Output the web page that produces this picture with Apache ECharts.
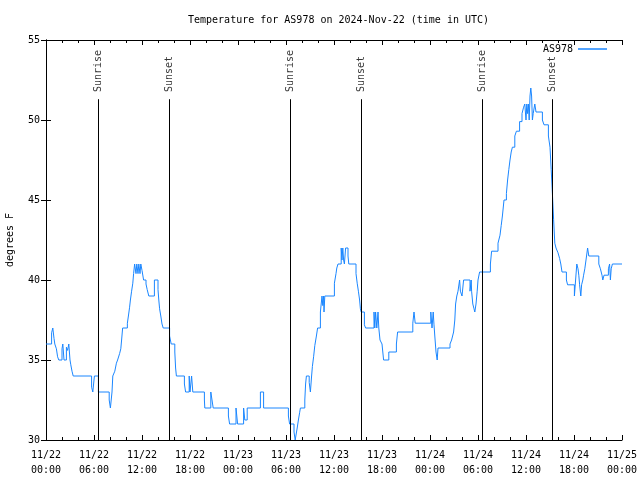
<!DOCTYPE html>
<html>
<head>
<meta charset="utf-8">
<script src="https://cdn.jsdelivr.net/npm/echarts@6/dist/echarts.min.js"></script>
<style>
html,body{margin:0;padding:0;background:#fff;}
#chart{width:640px;height:480px;}
</style>
</head>
<body>
<div id="chart"></div>
<script>
// Hours since 2024-11-22 00:00 UTC at which the temperature changes, and the new value (deg F)
const hours = [
  0, 0.7, 0.85, 1.0, 1.1, 1.3, 1.45, 1.6, 2.0, 2.1, 2.25, 2.55, 2.7, 2.85, 3.0, 3.1, 3.25, 3.4,
  5.7, 5.85, 6.05, 6.55, 7.9, 8.05, 8.25, 8.35, 8.6, 8.8, 8.95, 9.2, 9.35, 9.45, 9.58,
  10.17, 10.3, 10.45, 10.55, 10.7, 10.85, 10.95, 11.08, 11.25, 11.35, 11.5, 11.6, 11.75, 11.85,
  12.0, 12.2, 12.5, 12.65, 12.85, 13.55, 14.0, 14.1, 14.2, 14.35, 14.5, 14.65, 15.45, 15.65,
  16.1, 16.2, 16.3, 17.3, 17.45, 17.9, 18.0, 18.2, 18.35, 19.8, 19.85, 20.6, 20.75, 20.9,
  22.8, 22.95, 23.75, 23.95, 24.7, 24.85, 25.15, 26.8, 27.2, 30.3, 30.45, 31.0, 31.15,
  31.4, 31.55, 31.7, 31.8, 32.35, 32.45, 32.55, 32.9, 33.05, 33.2, 33.3, 33.45, 33.6, 33.8, 33.95,
  34.3, 34.5, 34.6, 34.7, 34.75, 34.85, 36.05, 36.25, 36.35, 36.5, 36.9, 37.0, 37.1, 37.2, 37.3,
  37.45, 37.75, 37.85, 38.75, 38.9, 39.05, 39.2, 39.3, 39.4, 39.8, 39.95,
  41.0, 41.1, 41.2, 41.35, 41.5, 41.6, 41.75, 42.0, 42.2, 42.85, 43.8, 43.95,
  45.85, 46.0, 46.15, 48.1, 48.25, 48.4, 48.5, 48.6, 48.75, 48.9, 49.0,
  50.5, 50.7, 50.95, 51.1, 51.2, 51.35, 51.5, 51.7, 51.8, 52.0, 52.2,
  53.0, 53.15, 53.2, 53.35, 53.5, 53.6, 53.75, 53.9, 54.0, 54.2,
  55.55, 55.7, 56.5, 56.75, 56.9, 57.05, 57.25, 57.55, 57.7, 57.85, 58.0, 58.15, 58.3, 58.6, 58.8,
  59.2, 59.5, 59.7, 59.85, 60.0, 60.1, 60.2, 60.3, 60.4, 60.5, 60.6, 60.7, 60.8, 60.9, 61.1, 61.25,
  62.05, 62.25, 62.8, 63.0, 63.15, 63.3, 63.45, 63.6, 63.75, 64.0, 64.2, 64.35, 64.5,
  65.05, 65.2, 66.05, 66.2, 66.35, 66.5, 66.6, 66.7, 66.85, 66.95, 67.1, 67.2, 67.35, 67.5, 67.7, 67.85,
  69.1, 69.3, 69.5, 69.6, 69.75, 70.3, 70.45, 70.55, 70.65, 70.8, 70.95, 72
];
const temps = [
  36, 36.7, 37, 36.35, 36, 35.7, 35.2, 35, 35.7, 36, 35, 35.8, 35.6, 36, 35, 34.7, 34.3, 34,
  33.3, 33, 34, 33, 32.5, 32, 33, 34, 34.3, 34.8, 35, 35.4, 35.7, 36.25, 37,
  37.3, 37.75, 38.3, 38.75, 39.3, 39.8, 40.4, 41, 40.4, 41, 40.4, 41, 40.4, 41,
  40.6, 40, 39.75, 39.4, 39, 40, 39.4, 38.75, 38.2, 37.75, 37.25, 37, 36.5, 36,
  35.5, 34.5, 34, 33.5, 33, 34, 33, 34, 33, 32.5, 32, 33, 32.5, 32,
  31.5, 31, 32, 31, 32, 31.25, 32, 33, 32, 31.5, 31, 30.5, 30,
  30.75, 31.25, 31.7, 32, 32.5, 33.5, 34, 33.6, 33, 34, 34.6, 35.2, 35.9, 36.5, 37,
  38, 39, 38.4, 39, 38, 39, 39.8, 40.4, 40.75, 41, 42, 41.25, 42, 41.25, 41,
  42, 41.5, 41, 40.4, 39.8, 39.3, 38.75, 38.2, 38, 37.2, 37,
  38, 37, 38, 37, 38, 37, 36.25, 36, 35, 35.5, 36,
  36.75, 37.3, 38, 37.3, 38, 37, 38, 37.2, 36.5, 35.5, 35,
  35.75, 36, 36.25, 36.75, 37.5, 38.5, 39, 39.3, 40, 39.3, 39,
  40, 39.3, 40, 39.3, 38.5, 38.2, 38, 38.5, 39.3, 40,
  40.5, 41, 41.8, 42.3, 42.8, 43.4, 44, 45, 45.4, 46.25, 46.9, 47.5, 48, 48.3, 49,
  49.3, 49.9, 50.4, 50.8, 51, 50, 51, 50.4, 51, 50, 51.5, 52, 51.5, 50, 50.4, 51,
  50.5, 50, 49.7, 49, 48.3, 46.9, 45.4, 43.8, 42.3, 42, 41.7, 41.35, 41,
  40.5, 40, 39.7, 39, 40, 41, 40.7, 40.3, 39.7, 39, 39.7, 40, 40.3, 40.7, 41.25, 42,
  41.5, 41, 40.7, 40.3, 40, 40.3, 40.7, 41, 40, 40.7, 41, 41
];
const seriesName = 'AS978';
const sunTimes = [6.53, 15.42, 30.54, 39.42, 54.54, 63.3];
const sunLabels = ['Sunrise', 'Sunset', 'Sunrise', 'Sunset', 'Sunrise', 'Sunset'];
const xTickLabels = [
  '11/22\n00:00', '11/22\n06:00', '11/22\n12:00', '11/22\n18:00',
  '11/23\n00:00', '11/23\n06:00', '11/23\n12:00', '11/23\n18:00',
  '11/24\n00:00', '11/24\n06:00', '11/24\n12:00', '11/24\n18:00', '11/25\n00:00'
];
const titleText = 'Temperature for AS978 on 2024-Nov-22 (time in UTC)';
const yName = 'degrees F';

const FONT = '"DejaVu Sans Mono", "Liberation Mono", monospace';
const lineTop = 51.3;     // top of the sunrise/sunset markers (deg F)
const labelBase = 51.75;  // bottom of the rotated marker labels (deg F)

const chart = echarts.init(document.getElementById('chart'), null, {renderer: 'canvas'});

const xCommon = {
  type: 'value', min: 0, max: 72, interval: 6,
  axisLine: {show: true, lineStyle: {color: '#000', width: 1}},
  axisTick: {show: true, inside: true, length: 5, lineStyle: {color: '#000'}},
  minorTick: {show: true, splitNumber: 3, length: 3, lineStyle: {color: '#000'}},
  splitLine: {show: false}
};
const yCommon = {
  type: 'value', min: 30, max: 55, interval: 5,
  axisLine: {show: true, lineStyle: {color: '#000', width: 1}},
  axisTick: {show: true, inside: true, length: 5, lineStyle: {color: '#000'}},
  splitLine: {show: false}
};

const option = {
  animation: false,
  backgroundColor: '#fff',
  title: {
    text: titleText, left: 183, top: 10,
    textStyle: {fontFamily: FONT, fontSize: 10, fontWeight: 'normal', color: '#000'}
  },
  legend: {
    data: [{name: seriesName, icon: 'rect'}],
    right: 28, top: 39, align: 'right',
    itemWidth: 29, itemHeight: 1.5,
    textStyle: {fontFamily: FONT, fontSize: 10, color: '#000'}
  },
  grid: {left: 46, right: 18, top: 40, bottom: 40, containLabel: false, outerBoundsMode: 'none'},
  xAxis: [
    Object.assign({}, xCommon, {
      position: 'bottom',
      axisLabel: {
        margin: 8, fontFamily: FONT, fontSize: 10, color: '#000', lineHeight: 15,
        formatter: v => xTickLabels[Math.round(v / 6)]
      }
    }),
    Object.assign({}, xCommon, {position: 'top', axisLabel: {show: false}})
  ],
  yAxis: [
    Object.assign({}, yCommon, {
      position: 'left',
      name: yName, nameLocation: 'middle', nameRotate: 90, nameGap: 31,
      nameTextStyle: {fontFamily: FONT, fontSize: 10, color: '#000'},
      axisLabel: {margin: 6, fontFamily: FONT, fontSize: 10, color: '#000'}
    }),
    Object.assign({}, yCommon, {position: 'right', axisLabel: {show: false}})
  ],
  series: [
    {
      name: seriesName, type: 'line', step: 'end',
      data: hours.map((h, i) => [h, temps[i]]),
      showSymbol: false, symbol: 'none',
      color: '#1a86ff',
      lineStyle: {width: 1, color: '#1a86ff'},
      z: 3,
      markLine: {
        silent: true, symbol: ['none', 'none'],
        label: {show: false},
        lineStyle: {color: '#000', width: 1, type: 'solid'},
        data: sunTimes.map(t => [{coord: [t, 30]}, {coord: [t, lineTop]}])
      }
    },
    {
      name: 'sunLabels', type: 'scatter', symbolSize: 0, silent: true,
      data: sunTimes.map((t, i) => ({value: [t, labelBase], name: sunLabels[i]})),
      label: {
        show: true, position: 'inside', rotate: 90,
        align: 'left', verticalAlign: 'middle',
        formatter: p => p.name,
        fontFamily: FONT, fontSize: 10, color: '#000'
      }
    }
  ]
};
chart.setOption(option);
</script>
</body>
</html>
